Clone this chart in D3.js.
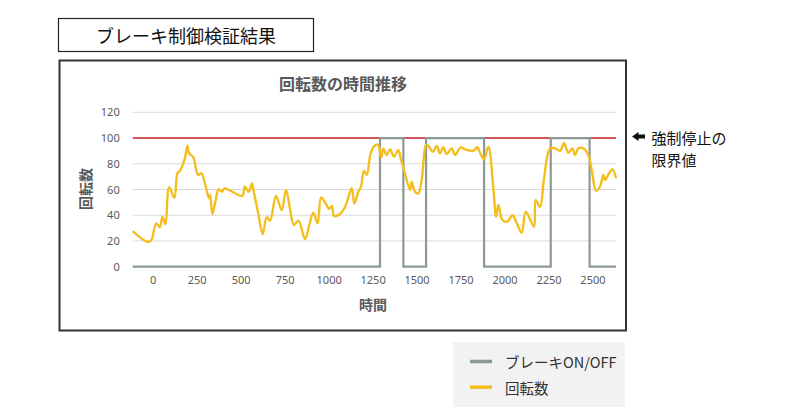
<!DOCTYPE html>
<html><head><meta charset="utf-8">
<script src="https://cdn.jsdelivr.net/npm/d3@7"></script>
<style>
html,body{margin:0;padding:0;background:#fff;}
svg{display:block;}
</style></head>
<body>
<svg id="c" width="793" height="420"></svg>
<script>
// ---- data ----
const pageTitle = "ブレーキ制御検証結果";
const chartTitle = "回転数の時間推移";
const xTitle = "時間";
const yTitle = "回転数";
const seriesNames = ["ブレーキON/OFF", "回転数"];
const noteLines = ["強制停止の", "限界値"];
const limitValue = 100;
const xTicks = [0, 250, 500, 750, 1000, 1250, 1500, 1750, 2000, 2250, 2500];
const yTicks = [0, 20, 40, 60, 80, 100, 120];
const xDomain = [-114, 2634];

const brakeTime = [-114, 1292, 1292, 1425, 1425, 1554, 1554, 1884, 1884, 2263, 2263, 2484, 2484, 2634];
const brakeValue = [0, 0, 100, 100, 0, 0, 100, 100, 0, 0, 100, 100, 0, 0];

const rpmTime = [-114, -27, -8, 20, 40, 55, 72, 93, 123, 140, 155, 182, 197, 206, 229, 258, 277, 299, 320, 326, 339, 356, 375, 394, 409, 509, 523, 546, 564, 576, 600, 625, 648, 667, 701, 733, 758, 781, 803, 828, 866, 890, 913, 938, 957, 985, 1002, 1018, 1031, 1065, 1093, 1131, 1146, 1169, 1184, 1201, 1217, 1239, 1262, 1280, 1300, 1311, 1330, 1349, 1372, 1396, 1412, 1434, 1463, 1472, 1491, 1510, 1529, 1554, 1567, 1592, 1615, 1633, 1652, 1671, 1700, 1719, 1751, 1775, 1823, 1845, 1861, 1883, 1908, 1936, 1952, 1965, 1988, 2016, 2045, 2066, 2098, 2121, 2168, 2177, 2202, 2225, 2259, 2287, 2316, 2338, 2363, 2386, 2401, 2420, 2448, 2477, 2499, 2520, 2543, 2562, 2571, 2600, 2615, 2634];
const rpmValue = [27.7, 19.2, 20.7, 33.7, 30.6, 38.9, 33, 61.7, 53.6, 72.6, 74.6, 84, 94, 88, 85.5, 71.3, 72.6, 63.5, 53.2, 55.7, 41, 50.5, 60.2, 58.3, 60.9, 55, 62.2, 58.3, 64.8, 57, 41.5, 25.2, 38.4, 35.8, 55, 44, 59.6, 44.6, 32.4, 35.8, 21.5, 32.4, 42, 33.7, 53.9, 48.7, 45, 47.2, 39.4, 41, 46.2, 61, 49.3, 58.3, 62.2, 74.6, 71.3, 88.1, 94, 95, 85, 92, 86.8, 91.2, 85.5, 90.7, 82.9, 72.6, 59.6, 66, 58.3, 57, 67.4, 94.6, 93.8, 89.4, 93.8, 88.1, 92.8, 87.6, 92, 86.8, 92.8, 91.2, 90.1, 92.8, 88.6, 83.5, 93.3, 62.2, 38.9, 48, 36.3, 35, 40, 35, 26.4, 42.7, 31.1, 51.8, 46.6, 68.7, 92, 92, 90.1, 95.9, 88.6, 92, 86.8, 92, 92, 86.8, 72.6, 59.1, 62.2, 71.3, 67.4, 73.8, 75.7, 68.7];

// ---- drawing ----
const svg = d3.select("#c");
const CJK = "'Noto Sans CJK JP','Noto Sans',sans-serif";
const NUM = "'Noto Sans','Open Sans',sans-serif";

// page title box
svg.append("rect").attr("x", 58.5).attr("y", 18.5).attr("width", 255).attr("height", 33)
  .attr("fill", "#fff").attr("stroke", "#222").attr("stroke-width", 1.2);
svg.append("text").attr("x", 186).attr("y", 35).attr("text-anchor", "middle")
  .attr("dominant-baseline", "central").attr("font-family", CJK).attr("font-size", 18)
  .attr("fill", "#111").text(pageTitle);

// chart frame
svg.append("rect").attr("x", 59.5).attr("y", 60.5).attr("width", 566.5).attr("height", 270)
  .attr("fill", "#fff").attr("stroke", "#333").attr("stroke-width", 2);

const x = d3.scaleLinear().domain(xDomain).range([132.7, 616]);
const y = d3.scaleLinear().domain([0, 120]).range([266.7, 112.3]);

// chart title
svg.append("text").attr("x", 343).attr("y", 83).attr("text-anchor", "middle")
  .attr("dominant-baseline", "central").attr("font-family", CJK).attr("font-size", 16)
  .attr("font-weight", "bold").attr("fill", "#595959").text(chartTitle);

// gridlines
svg.append("g").selectAll("line").data(yTicks.filter(v => v !== 0)).join("line")
  .attr("x1", x(xDomain[0])).attr("x2", x(xDomain[1]))
  .attr("y1", d => y(d)).attr("y2", d => y(d))
  .attr("stroke", "#d9d9d9").attr("stroke-width", 1);

// axes (labels only)
const yAxis = svg.append("g").attr("transform", `translate(${x(xDomain[0]) - 13},0)`)
  .call(d3.axisLeft(y).tickValues(yTicks).tickSize(0).tickPadding(0));
yAxis.select(".domain").remove();
yAxis.selectAll("text").attr("font-family", NUM).attr("font-size", 11).attr("fill", "#595959");

const xAxis = svg.append("g").attr("transform", `translate(0,${y(0) + 9})`)
  .call(d3.axisBottom(x).tickValues(xTicks).tickSize(0).tickPadding(0).tickFormat(d3.format("d")));
xAxis.select(".domain").remove();
xAxis.selectAll("text").attr("font-family", NUM).attr("font-size", 11).attr("fill", "#595959");

// axis titles
svg.append("text").attr("x", 373).attr("y", 304).attr("text-anchor", "middle")
  .attr("dominant-baseline", "central").attr("font-family", CJK).attr("font-size", 14)
  .attr("font-weight", "bold").attr("fill", "#595959").text(xTitle);
svg.append("text").attr("transform", "translate(85,189) rotate(-90)").attr("text-anchor", "middle")
  .attr("dominant-baseline", "central").attr("font-family", CJK).attr("font-size", 14)
  .attr("font-weight", "bold").attr("fill", "#595959").text(yTitle);

// limit line
svg.append("line").attr("x1", x(xDomain[0])).attr("x2", x(xDomain[1]))
  .attr("y1", y(limitValue)).attr("y2", y(limitValue))
  .attr("stroke", "#c8252c").attr("stroke-width", 1.4);

// brake series
const brakeData = brakeTime.map((t, i) => [t, brakeValue[i]]);
svg.append("path").datum(brakeData)
  .attr("d", d3.line().x(d => x(d[0])).y(d => y(d[1])))
  .attr("fill", "none").attr("stroke", "#8c9b91").attr("stroke-width", 2.2)
  .attr("stroke-linejoin", "miter");

// rpm series
const rpmData = rpmTime.map((t, i) => [t, rpmValue[i]]);
svg.append("path").datum(rpmData)
  .attr("d", d3.line().x(d => x(d[0])).y(d => y(d[1])).curve(d3.curveCatmullRom.alpha(0.5)))
  .attr("fill", "none").attr("stroke", "#f4bf1e").attr("stroke-width", 2.4)
  .attr("stroke-linejoin", "round");

// annotation arrow + text
svg.append("path").attr("d", "M632,136.5 L638.5,132 L638.5,134.5 L645,134.5 L645,138.5 L638.5,138.5 L638.5,141 Z")
  .attr("fill", "#111");
svg.append("g").selectAll("text").data(noteLines).join("text")
  .attr("x", 651.5).attr("y", (d, i) => 137 + i * 22)
  .attr("dominant-baseline", "central").attr("font-family", CJK).attr("font-size", 15)
  .attr("fill", "#111").text(d => d);

// legend
svg.append("rect").attr("x", 453).attr("y", 342).attr("width", 172).attr("height", 65).attr("fill", "#f2f2f2");
const legColors = ["#8c9b91", "#f4bf1e"];
const leg = svg.append("g").selectAll("g").data(seriesNames).join("g")
  .attr("transform", (d, i) => `translate(470,${361.5 + i * 25.7})`);
leg.append("line").attr("x1", 0).attr("x2", 22).attr("stroke", (d, i) => legColors[i]).attr("stroke-width", 3.5);
leg.append("text").attr("x", 35).attr("dominant-baseline", "central").attr("font-family", CJK)
  .attr("font-size", 14.5).attr("fill", "#333").text(d => d);
</script>
</body></html>
